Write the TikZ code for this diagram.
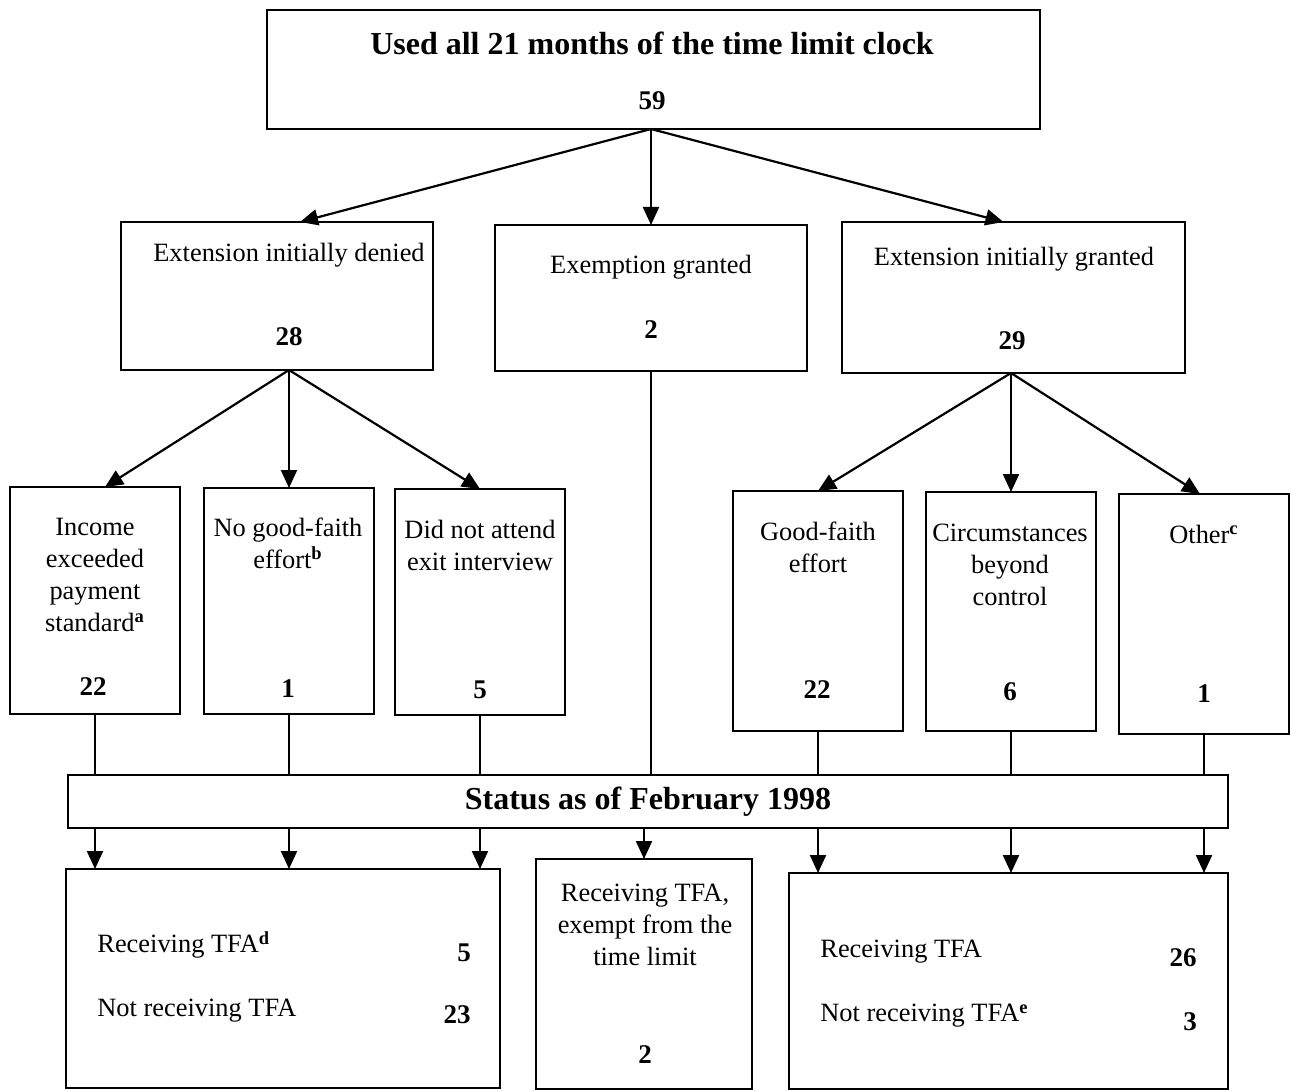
\documentclass[tikz,border=0pt]{standalone}
\usepackage{fontspec}
\setmainfont{Liberation Serif}
\usetikzlibrary{arrows.meta}
\begin{document}
\begin{tikzpicture}[x=0.5pt,y=-0.5pt,
  box/.style={draw, line width=1.2pt, inner sep=0pt, outer sep=0pt},
  conn/.style={line width=1.1pt},
  arr/.style={line width=1.1pt, -{Triangle[length=9pt,width=8pt]}},
  txt/.style={font=\fontsize{13.2}{16}\selectfont, align=center, inner sep=0pt},
  ltxt/.style={font=\fontsize{13.2}{16}\selectfont, anchor=west, inner sep=0pt},
  num/.style={font=\fontsize{13.5}{15}\selectfont\bfseries, inner sep=0pt},
  big/.style={font=\fontsize{16}{19}\selectfont\bfseries, inner sep=0pt}]
\useasboundingbox[fill=white] (0,0) rectangle (1291,1091);

% boxes
\node[box, minimum width=386.5pt, minimum height=59.5pt] (top) at (653.5,69.5) {};
\node[box, minimum width=156pt, minimum height=74pt] (A) at (277,296) {};
\node[box, minimum width=156pt, minimum height=73pt] (B) at (651,298) {};
\node[box, minimum width=171.5pt, minimum height=75.5pt] (C) at (1013.5,297.5) {};
\node[box, minimum width=85pt, minimum height=113.5pt] (D) at (95,600.5) {};
\node[box, minimum width=85pt, minimum height=113pt] (E) at (289,601) {};
\node[box, minimum width=85pt, minimum height=113pt] (F) at (480,602) {};
\node[box, minimum width=85pt, minimum height=120pt] (G) at (818,611) {};
\node[box, minimum width=85pt, minimum height=119.5pt] (H) at (1011,611.5) {};
\node[box, minimum width=85pt, minimum height=120pt] (I) at (1204,614) {};
\node[box, minimum width=580pt, minimum height=26.5pt] (S) at (648,801.5) {};
\node[box, minimum width=217pt, minimum height=109.5pt] (J) at (283,978.5) {};
\node[box, minimum width=108pt, minimum height=115pt] (K) at (644,974) {};
\node[box, minimum width=219.5pt, minimum height=108pt] (L) at (1008.5,981) {};

% texts
\node[big] (tTop) at (652,43) {Used all 21 months of the time limit clock};
\node[num] (nTop) at (652,101) {59};
\node[txt] (tA) at (289,255) {Extension initially denied};
\node[num] (nA) at (289,337) {28};
\node[txt] (tB) at (651,267) {Exemption granted};
\node[num] (nB) at (651,330) {2};
\node[txt] (tC) at (1014,259) {Extension initially granted};
\node[num] (nC) at (1012,341) {29};
\node[txt] (tD) at (95,575) {Income\\exceeded\\payment\\standard\textsuperscript{\bfseries a}};
\node[num] (nD) at (93,687) {22};
\node[txt] (tE) at (288,543) {No good-faith\\effort\textsuperscript{\bfseries b}};
\node[num] (nE) at (288,689) {1};
\node[txt] (tF) at (480,545.5) {Did not attend\\exit interview};
\node[num] (nF) at (480,690) {5};
\node[txt] (tG) at (818,547) {Good-faith\\effort};
\node[num] (nG) at (817,690) {22};
\node[txt] (tH) at (1010,564.5) {Circumstances\\beyond\\control};
\node[num] (nH) at (1010,692) {6};
\node[txt] (tI) at (1204,534) {Other\textsuperscript{\bfseries c}};
\node[num] (nI) at (1204,694) {1};
\node[big] (tS) at (648,802) {Status as of February 1998};
\node[ltxt] (tJ1) at (97,945) {Receiving TFA\textsuperscript{\bfseries d}};
\node[num] (nJ1) at (464,953) {5};
\node[ltxt] (tJ2) at (97,1011) {Not receiving TFA};
\node[num] (nJ2) at (457,1015) {23};
\node[txt] (tK) at (645,925) {Receiving TFA,\\exempt from the\\time limit};
\node[num] (nK) at (645,1055) {2};
\node[ltxt] (tL1) at (820,952) {Receiving TFA};
\node[num] (nL1) at (1183,958) {26};
\node[ltxt] (tL2) at (820,1016) {Not receiving TFA\textsuperscript{\bfseries e}};
\node[num] (nL2) at (1190,1022) {3};

% connectors top level
\coordinate (Tout) at (B.north |- top.south);
\draw[arr] (Tout) -- ([xshift=11.5pt]A.north);
\draw[arr] (Tout) -- (B.north);
\draw[arr] (Tout) -- ([xshift=-5pt]C.north);
% from A
\coordinate (Aout) at (E.north |- A.south);
\draw[arr] (Aout) -- ([xshift=5pt]D.north);
\draw[arr] (Aout) -- (E.north);
\draw[arr] (Aout) -- (F.north);
% from C
\coordinate (Cout) at (H.north |- C.south);
\draw[arr] (Cout) -- (G.north);
\draw[arr] (Cout) -- (H.north);
\draw[arr] (Cout) -- ([xshift=-2pt]I.north);
% to status bar
\foreach \b in {D,E,F,B,G,H,I}
  \draw[conn] (\b.south) -- (\b.south |- S.north);
% from status bar down
\foreach \b in {D,E,F}
  \draw[arr] (\b.south |- S.south) -- (\b.south |- J.north);
\draw[arr] (K.north |- S.south) -- (K.north);
\foreach \b in {G,H,I}
  \draw[arr] (\b.south |- S.south) -- (\b.south |- L.north);
\end{tikzpicture}
\end{document}
